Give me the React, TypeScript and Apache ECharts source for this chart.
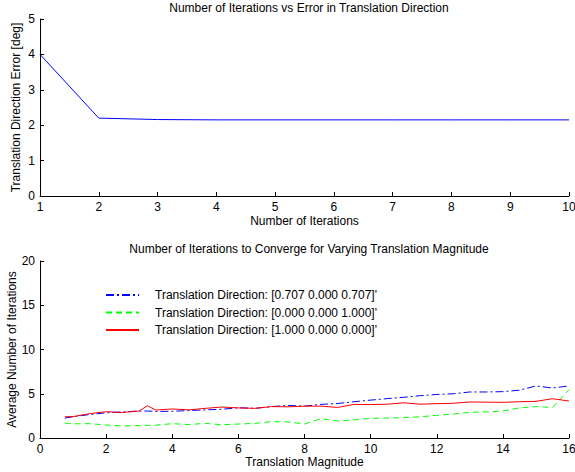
import React, { useEffect, useRef } from "react";
import * as echarts from "echarts";

// Top panel: error after each iteration
const iterations = [1, 2, 3, 4, 5, 6, 7, 8, 9, 10];
const directionError = [4.0, 2.2, 2.16, 2.15, 2.15, 2.15, 2.15, 2.15, 2.15, 2.15];

// Bottom panel: iterations needed vs translation magnitude
const magnitudes = [
  0.75, 1, 1.5, 2, 2.5, 3, 3.25, 3.5, 4, 4.5, 5, 5.5, 6, 6.5, 7, 7.5, 8, 8.5,
  9, 9.5, 10, 10.5, 11, 11.5, 12, 12.5, 13, 13.5, 14, 14.5, 15, 15.5, 16,
];
const itersDiag = [
  2.25, 2.4, 2.65, 2.85, 2.95, 3.05, 3.05, 3.0, 3.02, 3.1, 3.18, 3.25, 3.42,
  3.35, 3.55, 3.68, 3.6, 3.8, 3.9, 4.1, 4.28, 4.45, 4.6, 4.78, 4.92, 5.0, 5.2,
  5.2, 5.24, 5.4, 5.88, 5.65, 5.88,
];
const itersZ = [
  1.7, 1.6, 1.62, 1.47, 1.36, 1.4, 1.43, 1.45, 1.62, 1.52, 1.65, 1.5, 1.58,
  1.65, 1.85, 1.82, 1.58, 2.18, 1.92, 2.05, 2.22, 2.25, 2.3, 2.4, 2.56, 2.7,
  2.9, 2.95, 3.05, 3.4, 3.55, 3.45, 5.45,
];
const itersX = [
  2.4, 2.42, 2.75, 2.97, 2.88, 3.05, 3.65, 3.16, 3.28, 3.18, 3.35, 3.5, 3.4,
  3.35, 3.55, 3.52, 3.6, 3.6, 3.45, 3.8, 3.78, 3.82, 3.98, 3.82, 3.88, 3.92,
  4.07, 4.05, 4.03, 4.1, 4.14, 4.44, 4.18,
];
const legendNames = [
  "Translation Direction: [0.707 0.000 0.707]'",
  "Translation Direction: [0.000 0.000 1.000]'",
  "Translation Direction: [1.000 0.000 0.000]'",
];

const FONT = "Liberation Sans, Arial, sans-serif";
const txt = { color: "#000", fontFamily: FONT, fontSize: 12 };

const pairs = (xs: number[], ys: number[]) => xs.map((x, i) => [x, ys[i]]);

const axisCommon = {
  axisLine: { show: true, lineStyle: { color: "#000", width: 1 } },
  axisTick: { show: true, inside: true, length: 4, lineStyle: { color: "#000" } },
  splitLine: { show: false },
  axisLabel: { ...txt, margin: 5 },
  nameTextStyle: { ...txt },
  nameLocation: "middle" as const,
  nameMoveOverlap: false,
};

export default function App() {
  const ref = useRef<HTMLDivElement>(null);

  useEffect(() => {
    if (!ref.current) return;
    const chart = echarts.init(ref.current, undefined, { renderer: "svg" });
    chart.setOption({
      animation: false,
      backgroundColor: "#fff",
      title: [
        {
          text: "Number of Iterations vs Error in Translation Direction",
          left: 304,
          top: -3,
          textAlign: "center",
          textStyle: { ...txt, fontWeight: "normal" },
        },
        {
          text: "Number of Iterations to Converge for Varying Translation Magnitude",
          left: 304,
          top: 238,
          textAlign: "center",
          textStyle: { ...txt, fontWeight: "normal" },
        },
      ],
      legend: {
        orient: "vertical",
        left: 105,
        top: 289,
        padding: 0,
        itemWidth: 33,
        itemHeight: 10,
        itemGap: 5.5,
        data: legendNames,
        itemStyle: { opacity: 0 },
        textStyle: { ...txt, padding: [0, 0, 0, 11] },
      },
      grid: [
        { left: 40, right: 6, top: 19, height: 177, outerBoundsMode: "none" },
        { left: 40, right: 6, top: 261, height: 177, outerBoundsMode: "none" },
      ],
      xAxis: [
        {
          ...axisCommon,
          gridIndex: 0,
          type: "value",
          min: 1,
          max: 10,
          interval: 1,
          name: "Number of Iterations",
          nameGap: 19,
        },
        {
          ...axisCommon,
          gridIndex: 1,
          type: "value",
          min: 0,
          max: 16,
          interval: 2,
          name: "Translation Magnitude",
          nameGap: 18,
        },
      ],
      yAxis: [
        {
          ...axisCommon,
          gridIndex: 0,
          type: "value",
          min: 0,
          max: 5,
          interval: 1,
          name: "Translation Direction Error [deg]",
          nameGap: 18,
        },
        {
          ...axisCommon,
          gridIndex: 1,
          type: "value",
          min: 0,
          max: 20,
          interval: 5,
          name: "Average Number of Iterations",
          nameGap: 22,
        },
      ],
      series: [
        {
          type: "line",
          xAxisIndex: 0,
          yAxisIndex: 0,
          data: pairs(iterations, directionError),
          symbol: "none",
          lineStyle: { color: "#0000ff", width: 1 },
          itemStyle: { color: "#0000ff" },
        },
        {
          name: legendNames[0],
          type: "line",
          xAxisIndex: 1,
          yAxisIndex: 1,
          data: pairs(magnitudes, itersDiag),
          symbol: "none",
          lineStyle: { color: "#0000ff", width: 1, type: [8, 3, 2, 3] },
          itemStyle: { color: "#0000ff" },
        },
        {
          name: legendNames[1],
          type: "line",
          xAxisIndex: 1,
          yAxisIndex: 1,
          data: pairs(magnitudes, itersZ),
          symbol: "none",
          lineStyle: { color: "#00ff00", width: 1, type: [6, 4] },
          itemStyle: { color: "#00ff00" },
        },
        {
          name: legendNames[2],
          type: "line",
          xAxisIndex: 1,
          yAxisIndex: 1,
          data: pairs(magnitudes, itersX),
          symbol: "none",
          lineStyle: { color: "#ff0000", width: 1 },
          itemStyle: { color: "#ff0000" },
        },
      ],
    });
    return () => chart.dispose();
  }, []);

  return (
    <div
      ref={ref}
      style={{ position: "fixed", left: 0, top: 0, width: 575, height: 472, background: "#fff" }}
    />
  );
}
